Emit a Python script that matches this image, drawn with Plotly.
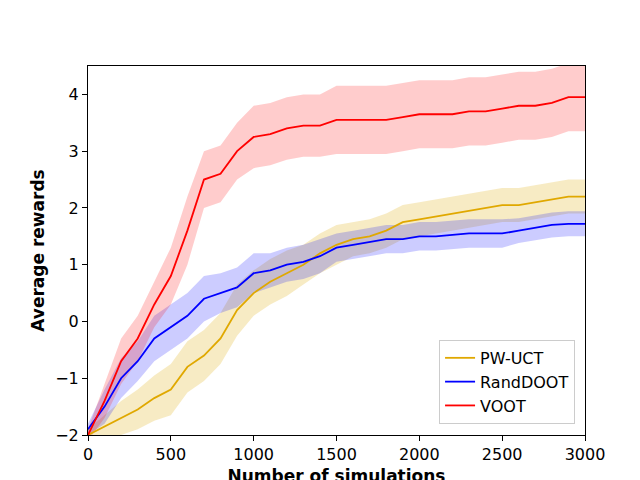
import plotly.graph_objects as go

sims = list(range(0, 3001, 100))

voot = [-2.0, -1.4, -0.7, -0.3, 0.3, 0.8, 1.6, 2.5, 2.6, 3.0, 3.25, 3.3, 3.4, 3.45, 3.45, 3.55,
        3.55, 3.55, 3.55, 3.6, 3.65, 3.65, 3.65, 3.7, 3.7, 3.75, 3.8, 3.8, 3.85, 3.95, 3.95]
voot_err = [0.1, 0.3, 0.4, 0.4, 0.4, 0.5, 0.6, 0.5, 0.5, 0.5, 0.55, 0.55, 0.55, 0.55, 0.55, 0.6,
            0.6, 0.6, 0.6, 0.6, 0.6, 0.6, 0.6, 0.6, 0.6, 0.6, 0.6, 0.6, 0.6, 0.6, 0.6]

randdoot = [-1.9, -1.5, -1.0, -0.7, -0.3, -0.1, 0.1, 0.4, 0.5, 0.6, 0.85, 0.9, 1.0, 1.05, 1.15, 1.3,
            1.35, 1.4, 1.45, 1.45, 1.5, 1.5, 1.52, 1.55, 1.55, 1.55, 1.6, 1.65, 1.7, 1.72, 1.72]
randdoot_err = [0.1, 0.3, 0.35, 0.35, 0.4, 0.4, 0.4, 0.4, 0.35, 0.35, 0.35, 0.3, 0.3, 0.3, 0.3, 0.25,
                0.25, 0.25, 0.25, 0.25, 0.25, 0.25, 0.25, 0.25, 0.25, 0.25, 0.22, 0.22, 0.22, 0.22, 0.22]

pwuct = [-2.0, -1.85, -1.7, -1.55, -1.35, -1.2, -0.8, -0.6, -0.3, 0.2, 0.5, 0.7, 0.85, 1.0, 1.2, 1.35,
         1.45, 1.5, 1.6, 1.75, 1.8, 1.85, 1.9, 1.95, 2.0, 2.05, 2.05, 2.1, 2.15, 2.2, 2.2]
pwuct_err = [0.1, 0.2, 0.3, 0.35, 0.4, 0.45, 0.45, 0.45, 0.45, 0.45, 0.4, 0.4, 0.4, 0.35, 0.35, 0.35,
             0.3, 0.3, 0.3, 0.3, 0.3, 0.3, 0.3, 0.3, 0.3, 0.3, 0.3, 0.3, 0.3, 0.3, 0.3]

series = [
    ("PW-UCT", pwuct, pwuct_err, "#e0a800", "rgba(230,190,60,0.3)"),
    ("RandDOOT", randdoot, randdoot_err, "#0000ff", "rgba(0,0,255,0.2)"),
    ("VOOT", voot, voot_err, "#ff0000", "rgba(255,0,0,0.2)"),
]

fig = go.Figure()
for name, m, e, col, fill in series:
    lo = [a - b for a, b in zip(m, e)]
    hi = [a + b for a, b in zip(m, e)]
    fig.add_trace(go.Scatter(x=sims, y=lo, mode="lines", line=dict(width=0),
                             showlegend=False, hoverinfo="skip"))
    fig.add_trace(go.Scatter(x=sims, y=hi, mode="lines", line=dict(width=0),
                             fill="tonexty", fillcolor=fill, showlegend=False, hoverinfo="skip"))
for name, m, e, col, fill in series:
    fig.add_trace(go.Scatter(x=sims, y=m, mode="lines", name=name,
                             line=dict(color=col, width=1.8)))

axis = dict(showgrid=False, zeroline=False, showline=True, linecolor="black", mirror=True,
            ticks="outside", ticklen=5, tickcolor="black", tickfont=dict(size=16, color="black"),
            automargin=False)
fig.update_layout(
    width=640, height=480,
    margin=dict(l=80, r=63, t=58, b=53),
    paper_bgcolor="white", plot_bgcolor="white",
    font=dict(family="DejaVu Sans", color="black"),
    xaxis=dict(axis, range=[0, 3000], dtick=500,
               title=dict(text="<b>Number of simulations</b>", font=dict(size=17), standoff=6)),
    yaxis=dict(axis, range=[-2, 4.5], dtick=1,
               title=dict(text="<b>Average rewards</b>", font=dict(size=17), standoff=6)),
    legend=dict(x=0.98, y=0.03, xanchor="right", yanchor="bottom", bgcolor="white",
                bordercolor="#cccccc", borderwidth=1, font=dict(size=16), traceorder="normal"),
)
fig.write_html("out.html")
